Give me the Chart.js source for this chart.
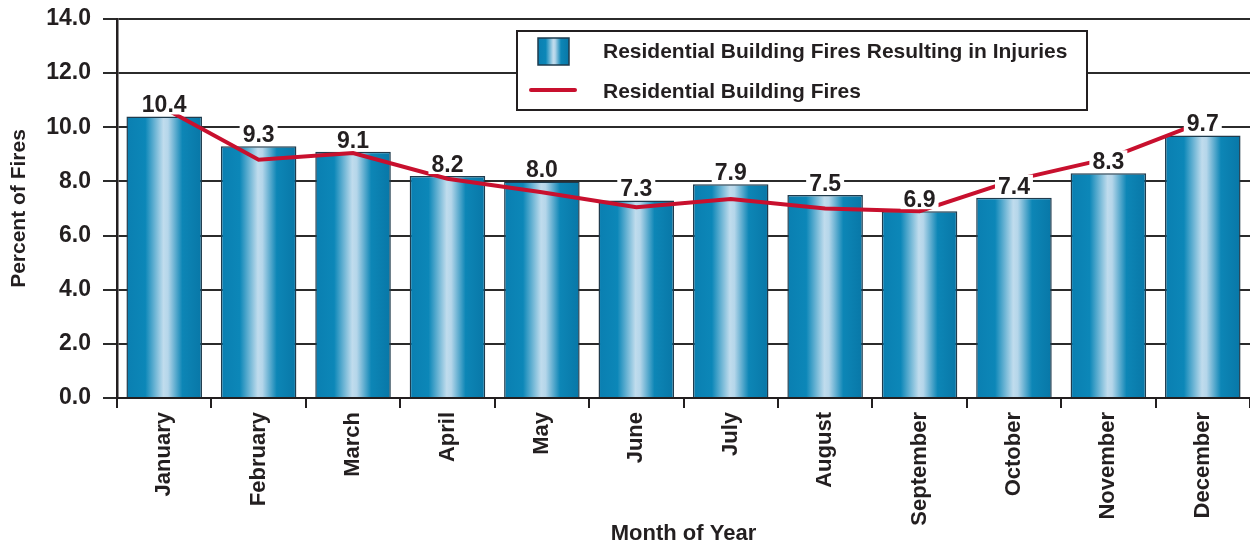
<!DOCTYPE html>
<html>
<head>
<meta charset="utf-8">
<script src="https://cdn.jsdelivr.net/npm/chart.js@4"></script>
<style>
  html, body { margin: 0; padding: 0; background: #fff; }
  #wrap { width: 1250px; height: 548px; }
</style>
</head>
<body>
<div id="wrap"><canvas id="myChart" width="1250" height="548"></canvas></div>
<script>
const months = ['January', 'February', 'March', 'April', 'May', 'June',
    'July', 'August', 'September', 'October', 'November', 'December'];

// residential building fires resulting in injuries (bars)
const injuryFires = [10.4, 9.3, 9.1, 8.2, 8.0, 7.3, 7.9, 7.5, 6.9, 7.4, 8.3, 9.7];

// all residential building fires (line)
const allFires = [10.7, 8.8, 9.05, 8.1, 7.6, 7.05, 7.35, 7.0, 6.9, 8.05, 8.85, 10.2];

const yTicks = [0, 2, 4, 6, 8, 10, 12, 14];

const ink = '#231f20';
const fontFam = '"Liberation Sans", Arial, sans-serif';

function shade(ctx, left, width) {
    const g = ctx.createLinearGradient(left, 0, left + width, 0);
    g.addColorStop(0, '#0a7fb1');
    g.addColorStop(0.25, '#0c87b8');
    g.addColorStop(0.49, '#c0dced');
    g.addColorStop(0.55, '#b5d6ea');
    g.addColorStop(0.74, '#0d86b6');
    g.addColorStop(1, '#0877a7');
    return g;
}

// horizontal shading on every bar (each bar gets its own options copy)
const barShade = {
    id: 'barShade',
    beforeDatasetsDraw(chart) {
        const ctx = chart.ctx;
        chart.getDatasetMeta(1).data.forEach(bar => {
            const opts = Object.assign({}, bar.options);
            opts.backgroundColor = shade(ctx, bar.x - bar.width / 2, bar.width);
            bar.options = opts;
        });
    }
};

// value labels over the bars, with a white box behind them
const valueLabels = {
    id: 'valueLabels',
    afterDatasetsDraw(chart) {
        const ctx = chart.ctx;
        ctx.save();
        ctx.font = 'bold 23px ' + fontFam;
        ctx.textAlign = 'center';
        ctx.textBaseline = 'alphabetic';
        chart.getDatasetMeta(1).data.forEach((bar, i) => {
            const txt = injuryFires[i].toFixed(1);
            const w = ctx.measureText(txt).width;
            const base = bar.y - 4;
            ctx.fillStyle = '#fff';
            ctx.fillRect(bar.x - w / 2 - 3, base - 19, w + 6, 21);
            ctx.fillStyle = ink;
            ctx.fillText(txt, bar.x, base);
        });
        ctx.restore();
    }
};

// legend box inside the plot
const boxLegend = {
    id: 'boxLegend',
    afterDraw(chart) {
        const ctx = chart.ctx;
        ctx.save();
        ctx.fillStyle = '#fff';
        ctx.fillRect(517, 31, 570, 79);
        ctx.strokeStyle = ink;
        ctx.lineWidth = 2;
        ctx.strokeRect(517, 31, 570, 79);

        ctx.fillStyle = shade(ctx, 538, 31);
        ctx.fillRect(538, 38, 31, 27);
        ctx.lineWidth = 1.5;
        ctx.strokeStyle = '#1f3b4d';
        ctx.strokeRect(538, 38, 31, 27);

        ctx.strokeStyle = '#c8102e';
        ctx.lineWidth = 4;
        ctx.lineCap = 'round';
        ctx.beginPath();
        ctx.moveTo(531, 90);
        ctx.lineTo(575, 90);
        ctx.stroke();

        ctx.fillStyle = ink;
        ctx.font = 'bold 21px ' + fontFam;
        ctx.textBaseline = 'middle';
        ctx.fillText(chart.data.datasets[1].label, 603, 52);
        ctx.fillText(chart.data.datasets[0].label, 603, 92);
        ctx.restore();
    }
};

const config = {
    data: {
        labels: months,
        datasets: [
            {
                type: 'line',
                label: 'Residential Building Fires',
                data: allFires,
                borderColor: '#c8102e',
                borderWidth: 4,
                pointRadius: 0,
                tension: 0,
                order: 0
            },
            {
                type: 'bar',
                label: 'Residential Building Fires Resulting in Injuries',
                data: injuryFires,
                backgroundColor: '#0a7cae',
                borderColor: '#1f3b4d',
                borderWidth: 1.5,
                categoryPercentage: 1,
                barPercentage: 0.8,
                order: 1
            }
        ]
    },
    options: {
        responsive: false,
        animation: false,
        layout: { padding: { top: 19, right: 0, left: 0, bottom: 0 } },
        plugins: {
            legend: { display: false },
            tooltip: { enabled: false }
        },
        scales: {
            x: {
                offset: true,
                grid: {
                    offset: true,
                    drawOnChartArea: false,
                    color: ink,
                    lineWidth: 2,
                    tickLength: 10
                },
                border: { display: true, color: ink, width: 2 },
                ticks: {
                    minRotation: 90,
                    maxRotation: 90,
                    padding: 4,
                    color: ink,
                    font: { family: fontFam, size: 22, weight: 'bold' }
                },
                title: {
                    display: true,
                    text: 'Month of Year',
                    color: ink,
                    padding: { top: 0, bottom: 1 },
                    font: { family: fontFam, size: 22, weight: 'bold' }
                },
                afterFit(scale) {
                    scale.height = 150;
                    scale.paddingLeft = 0;
                    scale.paddingRight = 0;
                }
            },
            y: {
                min: 0,
                max: 14,
                afterBuildTicks(scale) {
                    scale.ticks = yTicks.map(v => ({ value: v }));
                },
                grid: {
                    color: '#2b2b2b',
                    lineWidth: 2,
                    tickLength: 14
                },
                border: { display: true, color: ink, width: 2.5 },
                ticks: {
                    padding: 12,
                    color: ink,
                    font: { family: fontFam, size: 23, weight: 'bold' },
                    callback: v => v.toFixed(1)
                },
                title: {
                    display: true,
                    text: 'Percent of Fires',
                    color: ink,
                    padding: { top: 7, bottom: 0 },
                    font: { family: fontFam, size: 21, weight: 'bold' }
                },
                afterFit(scale) {
                    scale.width = 117;
                    scale.paddingTop = 0;
                    scale.paddingBottom = 0;
                }
            }
        }
    },
    plugins: [barShade, valueLabels, boxLegend]
};

const myChart = new Chart(document.getElementById('myChart'), config);
</script>
</body>
</html>
